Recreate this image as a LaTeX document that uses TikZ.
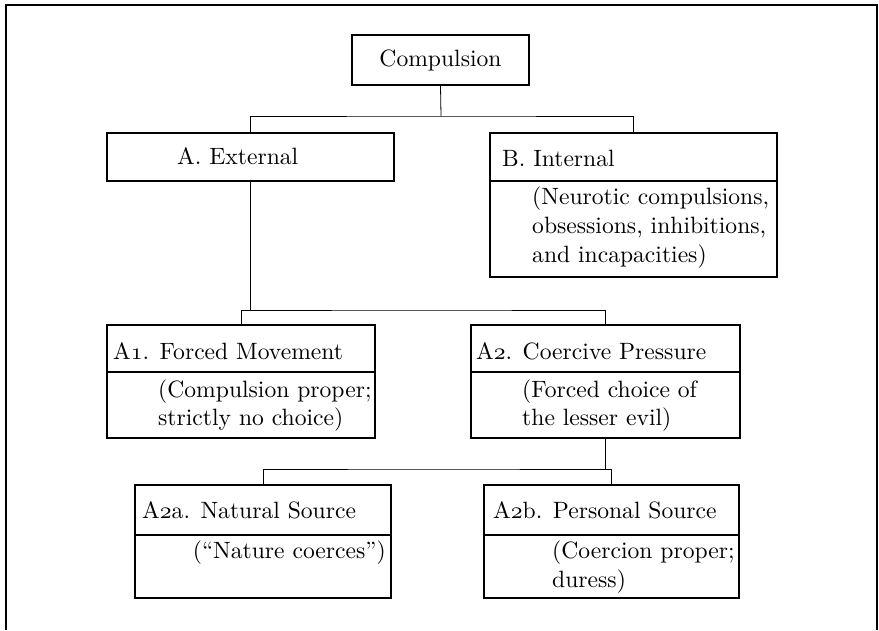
\documentclass[tikz,border=0pt]{standalone}
\usetikzlibrary{calc}
\newcommand\osnum[1]{{\usefont{OML}{lmm}{m}{it}#1}}
\newcommand\T[1]{\scalebox{2.36}{\fontsize{10}{12}\selectfont #1}}
\begin{document}
\begin{tikzpicture}[x=1pt,y=-1pt,
  box/.style={draw,line width=1.1pt,inner sep=0pt,minimum width=#1},
  link/.style={line width=0.8pt},
  lbl/.style={anchor=base west,inner sep=0pt}]
\useasboundingbox (0,0) rectangle (879,630);
\draw[line width=1.4pt] (6,630) -- (6,5) -- (877,5) -- (877,630);

% boxes
\node[box=177pt,minimum height=50pt] (comp) at (440.5,60) {\T{Compulsion}};
\node[box=287pt,minimum height=48pt] (A) at (250.5,157) {};
\node[box=287pt,minimum height=144pt] (B) at (633.5,205) {};
\node[box=268pt,minimum height=113pt] (A1) at (241,381.5) {};
\node[box=269pt,minimum height=113pt] (A2) at (605.5,381.5) {};
\node[box=256pt,minimum height=113pt] (A2a) at (263,541.5) {};
\node[box=255pt,minimum height=113pt] (A2b) at (611.5,541.5) {};

% dividers
\draw[line width=1.1pt] (B.west |- 0,181) -- (B.east |- 0,181);
\draw[line width=1.1pt] (A1.west |- 0,372) -- (A1.east |- 0,372);
\draw[line width=1.1pt] (A2.west |- 0,372) -- (A2.east |- 0,372);
\draw[line width=1.1pt] (A2a.west |- 0,535) -- (A2a.east |- 0,535);
\draw[line width=1.1pt] (A2b.west |- 0,535) -- (A2b.east |- 0,535);

% texts
\node[lbl] (tA) at (177,164) {\T{A. External}};
\node[lbl] (tB) at (502,166) {\T{B. Internal}};
\node[lbl] (tB1) at (532,204) {\T{(Neurotic compulsions,}};
\node[lbl] (tB2) at (532,233) {\T{obsessions, inhibitions,}};
\node[lbl] (tB3) at (532,262) {\T{and incapacities)}};
\node[lbl] (tA1) at (113,359) {\T{A\osnum{1}. Forced Movement}};
\node[lbl] (tA11) at (158,397) {\T{(Compulsion proper;}};
\node[lbl] (tA12) at (158,425) {\T{strictly no choice)}};
\node[lbl] (tA2) at (476,359) {\T{A\osnum{2}. Coercive Pressure}};
\node[lbl] (tA21) at (522,397) {\T{(Forced choice of}};
\node[lbl] (tA22) at (522,425) {\T{the lesser evil)}};
\node[lbl] (tA2a) at (142,518) {\T{A\osnum{2}a. Natural Source}};
\node[lbl,anchor=base east] (tA2a1) at (386,558) {\T{(“Nature coerces”)}};
\node[lbl] (tA2b) at (493,518) {\T{A\osnum{2}b. Personal Source}};
\node[lbl] (tA2b1) at (552,558) {\T{(Coercion proper;}};
\node[lbl] (tA2b2) at (552,587) {\T{duress)}};

% connectors
\coordinate (j1) at (441,116);
\coordinate (j2) at (420,310);
\coordinate (j3) at (430,469);
\draw[link] (comp.south) -- (j1);
\draw[link] (A.north) |- (j1) -| (B.north);
\draw[link] (A.south) -- (A.south |- j2);
\draw[link] (A1.north) |- (j2) -| (A2.north);
\draw[link] (A2.south) -- (A2.south |- j3);
\draw[link] (A2a.north) |- (j3) -| (A2b.north);
\end{tikzpicture}
\end{document}
